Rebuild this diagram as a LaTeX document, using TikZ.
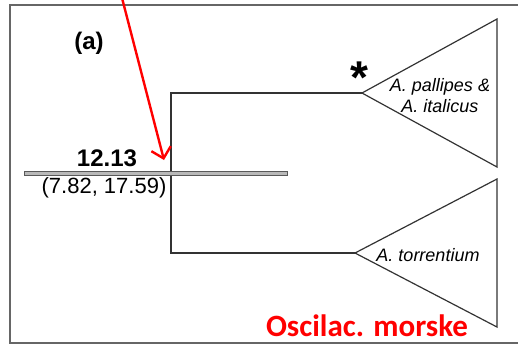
\documentclass[tikz,border=0pt]{standalone}
\usepackage{fontspec}
\setmainfont{Liberation Sans}
\newfontfamily\calibri{Carlito}
\usetikzlibrary{arrows.meta,positioning,calc}

\begin{document}
\begin{tikzpicture}[
  x=0.5pt,y=-0.5pt,
  frame/.style={draw=gray!80!black,line width=0.8pt},
  branch/.style={draw=black!80,line width=0.6pt},
  clade/.style={draw=black!80,line width=0.6pt},
  bar/.style={draw=gray!70!black,fill=gray!55,line width=0.3pt},
  taxon/.style={font=\fontsize{9}{10.5}\selectfont\itshape,align=center,inner sep=0pt},
  pointer/.style={-{Straight Barb[length=5pt,width=10pt]},red,line width=1.2pt}
]
  \useasboundingbox (0,0) rectangle (518,345);
  \draw[frame] (518,5) -- (10,5) -- (10,343) -- (518,343);

  % tree
  \coordinate (root) at (171,173);
  \coordinate (top) at (171,93);
  \coordinate (bot) at (171,253);
  \coordinate (tipA) at (362,93);
  \coordinate (tipB) at (355,253);
  \draw[branch] (tipA) -- (top) -- (bot) -- (tipB);

  % collapsed clades
  \draw[clade] (tipA) -- (497,19) -- (497,167) -- cycle;
  \draw[clade] (tipB) -- (497,179) -- (497,327) -- cycle;

  % age bar
  \filldraw[bar] (24,171) rectangle (287,175);

  \node[font=\fontsize{12}{14}\bfseries] (lab) at (89,43) {(a)};
  \node[font=\fontsize{12}{14}\selectfont\bfseries] (age) at (107,158) {12.13};
  \node[font=\fontsize{11}{13}\selectfont] (hpd) at (104,188) {(7.82, 17.59)};
  \node[font=\fontsize{23}{24}\selectfont\bfseries,inner sep=0pt] (star) at (359,78) {*};
  \node[taxon] (pal) at (440,96) {A. pallipes \&\\A. italicus};
  \node[taxon] (tor) at (428,255) {A. torrentium};
  \node[font=\calibri\fontsize{15.5}{17}\selectfont\bfseries,text=red] (osc) at (367,326) {Oscilac. morske};

  \coordinate (from) at (122,-2);
  \draw[pointer] (from) -- (164,160);
\end{tikzpicture}
\end{document}
